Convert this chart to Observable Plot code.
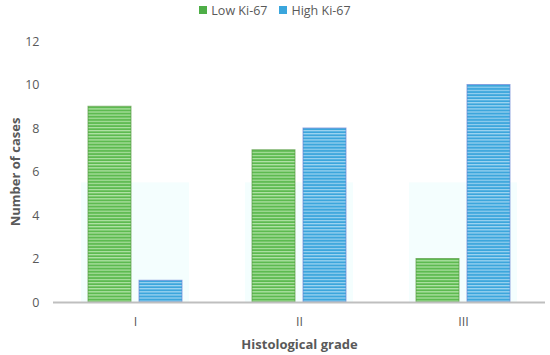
<!DOCTYPE html>
<html><head><meta charset="utf-8">
<script src="https://cdn.jsdelivr.net/npm/d3@7"></script>
<script src="https://cdn.jsdelivr.net/npm/@observablehq/plot@0.6"></script>
<style>
body{margin:0;background:#fff;font-family:"Open Sans",sans-serif;width:550px;height:355px;overflow:hidden}
#legend{height:20px;display:flex;justify-content:center;align-items:center;gap:12px;font-size:12.5px;color:#595959}
#legend span.item{display:flex;align-items:center}
.sw{display:inline-block;width:8px;height:8px;margin-right:4px}
</style></head><body>
<div id="legend"></div>
<div id="chart"></div>
<script>
const grades = ["I", "II", "III"];
const series = ["Low Ki-67", "High Ki-67"];
const lowKi67 = [9, 7, 2];
const highKi67 = [1, 8, 10];
const yTicks = [0, 2, 4, 6, 8, 10, 12];
const seriesColors = ["#4eae47", "#3aa6dd"];
const shadeLevel = [5.5, 5.5, 5.5];

const data = [];
grades.forEach((g, i) => {
  data.push({grade: g, series: series[0], value: lowKi67[i]});
  data.push({grade: g, series: series[1], value: highKi67[i]});
});
const shade = grades.map((g, i) => ({grade: g, value: shadeLevel[i]}));

// legend
const legend = document.getElementById("legend");
series.forEach((s, i) => {
  const item = document.createElement("span");
  item.className = "item";
  item.innerHTML = `<span class="sw" style="background:${seriesColors[i]}"></span>${s}`;
  legend.appendChild(item);
});

const chart = Plot.plot({
  width: 550,
  height: 335,
  marginTop: 21,
  marginBottom: 53,
  marginLeft: 52,
  marginRight: 5,
  style: {fontFamily: "Open Sans, sans-serif", fontSize: "12.5px", color: "#595959", background: "#fff"},
  fx: {domain: grades, padding: 0, axis: "bottom", label: "Histological grade", labelAnchor: "center", labelOffset: 46, tickSize: 0, tickPadding: 15},
  x: {domain: series, axis: null, paddingInner: 0.157, paddingOuter: 0.686},
  y: {domain: [0, 12], ticks: yTicks, label: "Number of cases", labelAnchor: "center", labelOffset: 43, labelArrow: "none", tickSize: 0, tickPadding: 14},
  color: {domain: series, range: ["url(#stripeGreen)", "url(#stripeBlue)"]},
  marks: [
    Plot.rectY(shade, {fx: "grade", y1: 0, y2: "value", fill: "#effefe", fillOpacity: 0.7, insetLeft: 28, insetRight: 28}),
    Plot.barY(data, {fx: "grade", x: "series", y: "value", fill: "series", stroke: d => d.series === series[0] ? "#5a9a45" : "#6b86d6", strokeWidth: 1, strokeOpacity: 0.7}),
    Plot.ruleY([0], {stroke: "#bfbfbf", strokeWidth: 2})
  ]
});

const svg = d3.select(chart.tagName === "svg" ? chart : chart.querySelector("svg"));
const defs = svg.insert("defs", ":first-child");
function stripe(id, base, light) {
  const p = defs.append("pattern").attr("id", id).attr("patternUnits", "userSpaceOnUse")
    .attr("width", 6).attr("height", 3.1);
  p.append("rect").attr("width", 6).attr("height", 3.1).attr("fill", base);
  p.append("rect").attr("y", 1.6).attr("width", 6).attr("height", 1.1).attr("fill", light);
}
stripe("stripeGreen", "#5dba50", "#b8e6ad");
stripe("stripeBlue", "#3ca6dc", "#a6d8f3");
// axis titles bold
svg.selectAll("text").filter(function(){ const t = this.textContent; return t.includes("Number of cases") || t.includes("Histological grade"); })
  .attr("font-weight", "bold").style("font-size", "13px");
document.getElementById("chart").appendChild(chart);
</script>
</body></html>
